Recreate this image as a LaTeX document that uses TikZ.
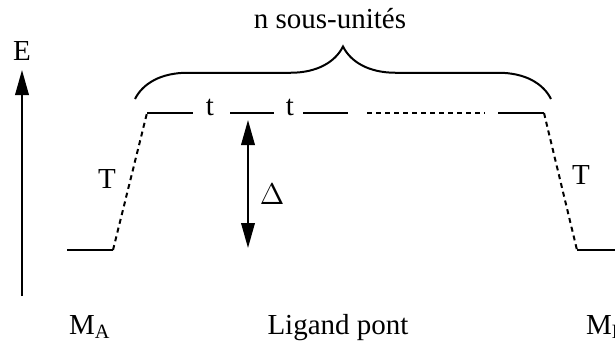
\documentclass[tikz,border=0pt]{standalone}
\usepackage{fontspec}
\setmainfont{Liberation Serif}
\usetikzlibrary{arrows.meta, positioning, calc, decorations.pathreplacing}

\begin{document}
\begin{tikzpicture}[x=0.4pt, y=-0.4pt, line width=0.8pt,
  every node/.style={font=\fontsize{11.6}{14}\selectfont, inner sep=0pt, anchor=base},
  trans/.style={dash pattern=on 2pt off 1.6pt},
  >={Triangle[length=10pt,width=5.4pt]}]
\useasboundingbox (0,0) rectangle (615,342);

% Energy axis
\coordinate (e0) at (22,296);
\coordinate (e1) at (22,70);
\draw[->] (e0) -- (e1);
\node (elab) at (22,60) {E};

% Metal A
\coordinate (a0) at (67,250);
\coordinate (a1) at (113,250);
\draw (a0) -- (a1);
\coordinate (l0) at (147,113);
\draw[trans] (a1) -- (l0);
\node (tA) at (107,188) {T};

% Bridging ligand levels
\coordinate (l1) at (193,113);
\coordinate (l2) at (230,113);
\coordinate (l3) at (274,113);
\coordinate (l4) at (303,113);
\coordinate (l5) at (348,113);
\coordinate (l6) at (367,113);
\coordinate (l7) at (485,113);
\coordinate (l8) at (498,113);
\coordinate (l9) at (544,113);
\draw (l0) -- (l1);
\draw (l2) -- (l3);
\draw (l4) -- (l5);
\draw[trans] (l6) -- (l7);
\draw (l8) -- (l9);
\node (t1) at (210,115) {t};
\node (t2) at (290,115) {t};

% Metal B
\coordinate (b0) at (577,250);
\coordinate (b1) at (625,250);
\draw[trans] (l9) -- (b0);
\draw (b0) -- (b1);
\node (tB) at (581,184) {T};

% Gap
\coordinate (d0) at (248,120);
\coordinate (d1) at (248,248);
\draw[<->] (d0) -- (d1);
\node (delta) at (272,204) {$\Delta$};

% Brace over the sub-units
\coordinate (br0) at (135,99);
\coordinate (br1) at (551,99);
\draw[decorate, decoration={brace, amplitude=21pt}] (br0) -- (br1);
\node (nsu) at (330,28) {n sous-unités};

% Bottom labels
\node[anchor=base west] (mA) at (68,334) {M\textsubscript{A}};
\node (lig) at (338,334) {Ligand pont};
\node[anchor=base west] (mB) at (585,334) {M\textsubscript{B}};
\end{tikzpicture}
\end{document}
